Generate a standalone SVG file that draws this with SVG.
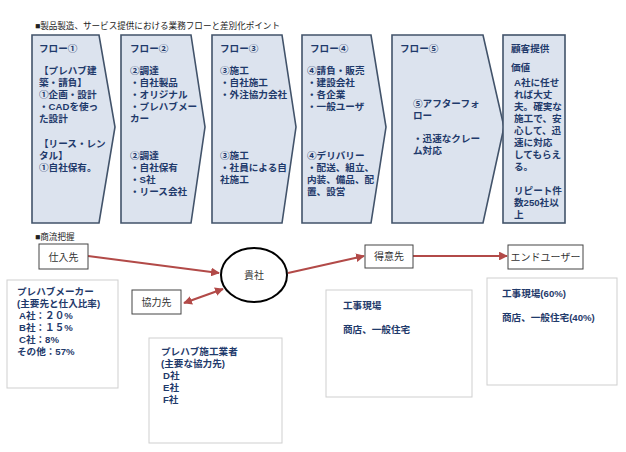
<svg xmlns="http://www.w3.org/2000/svg" width="626" height="452" viewBox="0 0 626 452">
<style>
.chev{fill:#DCE3EE;stroke:#42536A;stroke-width:1.6}
.ft{font-family:"Liberation Sans","Noto Sans CJK JP",sans-serif;font-weight:bold;font-size:9.6px;fill:#1F3A6B}
.hd{font-family:"Liberation Sans","Noto Sans CJK JP",sans-serif;font-size:8.6px;fill:#222}
.lb{font-family:"Liberation Sans","Noto Sans CJK JP",sans-serif;font-size:10px;fill:#333;text-anchor:middle}
.nb{fill:#fff;stroke:#444;stroke-width:1}
.ib{fill:#fff;stroke:#CFCFCF;stroke-width:1}
.cn{stroke:#B24A48;stroke-width:2.2;fill:none}
</style>
<defs>
<marker id="ah" viewBox="0 0 10 10" refX="9" refY="5" markerWidth="4" markerHeight="4" orient="auto-start-reverse" markerUnits="strokeWidth">
<path d="M0,0 L10,5 L0,10 Z" fill="#B24A48"/>
</marker>
</defs>
<rect width="626" height="452" fill="#fff"/>
<text class="hd" x="35" y="29" textLength="245">■製品製造、サービス提供における業務フローと差別化ポイント</text>

<g id="flow1">
<path class="chev" d="M32,35 L99,35 L115,127 L99,223 L32,223 Z"/>
<text class="ft" x="39" y="52">フロー①</text>
<text class="ft" x="39" y="74">【プレハブ建</text>
<text class="ft" x="39" y="86">築・請負】</text>
<text class="ft" x="39" y="98">①企画・設計</text>
<text class="ft" x="39" y="110">・CADを使っ</text>
<text class="ft" x="39" y="122">た設計</text>
<text class="ft" x="39" y="147">【リース・レン</text>
<text class="ft" x="39" y="159">タル】</text>
<text class="ft" x="39" y="171">①自社保有。</text>
</g>
<g id="flow2">
<path class="chev" d="M121,35 L191,35 L205,127 L191,223 L121,223 Z"/>
<text class="ft" x="130" y="52">フロー②</text>
<text class="ft" x="130" y="74">②調達</text>
<text class="ft" x="130" y="86">・自社製品</text>
<text class="ft" x="130" y="98">・オリジナル</text>
<text class="ft" x="130" y="110">・プレハブメー</text>
<text class="ft" x="130" y="122">カー</text>
<text class="ft" x="130" y="159">②調達</text>
<text class="ft" x="130" y="171">・自社保有</text>
<text class="ft" x="130" y="183">・S社</text>
<text class="ft" x="130" y="195">・リース会社</text>
</g>
<g id="flow3">
<path class="chev" d="M212,35 L282,35 L296,127 L282,223 L212,223 Z"/>
<text class="ft" x="220" y="52">フロー③</text>
<text class="ft" x="220" y="74">③施工</text>
<text class="ft" x="220" y="86">・自社施工</text>
<text class="ft" x="220" y="98">・外注協力会社</text>
<text class="ft" x="220" y="159">③施工</text>
<text class="ft" x="220" y="171">・社員による自</text>
<text class="ft" x="220" y="183">社施工</text>
</g>
<g id="flow4">
<path class="chev" d="M302,35 L371,35 L386,127 L371,223 L302,223 Z"/>
<text class="ft" x="310" y="52">フロー④</text>
<text class="ft" x="307" y="74">④請負・販売</text>
<text class="ft" x="307" y="86">・建設会社</text>
<text class="ft" x="307" y="98">・各企業</text>
<text class="ft" x="307" y="110">・一般ユーザ</text>
<text class="ft" x="307" y="159">④デリバリー</text>
<text class="ft" x="307" y="171">・配送、組立、</text>
<text class="ft" x="307" y="183">内装、備品、配</text>
<text class="ft" x="307" y="195">置、設営</text>
</g>
<g id="flow5">
<path class="chev" d="M392,35 L483,35 L504,127 L483,223 L392,223 Z"/>
<text class="ft" x="400" y="52">フロー⑤</text>
<text class="ft" x="413" y="107">⑤アフターフォ</text>
<text class="ft" x="413" y="119">ロー</text>
<text class="ft" x="413" y="142">・迅速なクレー</text>
<text class="ft" x="413" y="154">ム対応</text>
</g>
<g id="value">
<rect class="chev" x="503" y="35" width="62" height="188"/>
<text class="ft" x="511" y="52">顧客提供</text>
<text class="ft" x="511" y="71">価値</text>
<text class="ft" x="514" y="86">A社に任せ</text>
<text class="ft" x="514" y="98">れば大丈</text>
<text class="ft" x="514" y="110">夫。確実な</text>
<text class="ft" x="514" y="122">施工で、安</text>
<text class="ft" x="514" y="134">心して、迅</text>
<text class="ft" x="514" y="146">速に対応</text>
<text class="ft" x="514" y="158">してもらえ</text>
<text class="ft" x="514" y="170">る。</text>
<text class="ft" x="514" y="194">リピート件</text>
<text class="ft" x="514" y="206">数250社以</text>
<text class="ft" x="514" y="218">上</text>
</g>

<text class="hd" x="35" y="240" font-size="9">■商流把握</text>

<g id="connectors">
<line class="cn" x1="88" y1="256" x2="219" y2="273" marker-end="url(#ah)"/>
<line class="cn" x1="184" y1="303" x2="223" y2="289" marker-start="url(#ah)" marker-end="url(#ah)"/>
<line class="cn" x1="288" y1="273" x2="364" y2="256" marker-end="url(#ah)"/>
<line class="cn" x1="413" y1="256" x2="507" y2="256" marker-end="url(#ah)"/>
</g>

<g id="shiire">
<rect class="nb" x="39" y="244" width="49" height="25"/>
<text class="lb" x="63.5" y="260.5">仕入先</text>
</g>
<g id="kisha">
<ellipse cx="254" cy="275" rx="33" ry="27" fill="#fff" stroke="#000" stroke-width="2"/>
<text class="lb" x="254" y="278.5">貴社</text>
</g>
<g id="kyoryoku">
<rect class="nb" x="132" y="290" width="49" height="24"/>
<text class="lb" x="156.5" y="305.5">協力先</text>
</g>
<g id="tokui">
<rect class="nb" x="365" y="245" width="48" height="23"/>
<text class="lb" x="389" y="260">得意先</text>
</g>
<g id="enduser">
<rect class="nb" x="508" y="245" width="75" height="24"/>
<text class="lb" x="545.5" y="260.5" font-size="9">エンドユーザー</text>
</g>

<g id="info-maker">
<rect class="ib" x="7" y="280" width="111" height="108"/>
<text class="ft" x="17" y="295">プレハブメーカー</text>
<text class="ft" x="17" y="307">(主要先と仕入比率)</text>
<text class="ft" x="19" y="319">A社：２０%</text>
<text class="ft" x="19" y="331">B社：１５%</text>
<text class="ft" x="19" y="343">C社：8%</text>
<text class="ft" x="17" y="355">その他：57%</text>
</g>
<g id="info-kyoryoku">
<rect class="ib" x="149" y="338" width="133" height="105"/>
<text class="ft" x="161" y="355">プレハブ施工業者</text>
<text class="ft" x="161" y="367">(主要な協力先)</text>
<text class="ft" x="163" y="379">D社</text>
<text class="ft" x="163" y="391">E社</text>
<text class="ft" x="163" y="403">F社</text>
</g>
<g id="info-tokui">
<rect class="ib" x="326" y="290" width="146" height="107"/>
<text class="ft" x="343" y="309">工事現場</text>
<text class="ft" x="343" y="333">商店、一般住宅</text>
</g>
<g id="info-end">
<rect class="ib" x="487" y="278" width="130" height="107"/>
<text class="ft" x="502" y="297">工事現場(60%)</text>
<text class="ft" x="502" y="321">商店、一般住宅(40%)</text>
</g>
</svg>
